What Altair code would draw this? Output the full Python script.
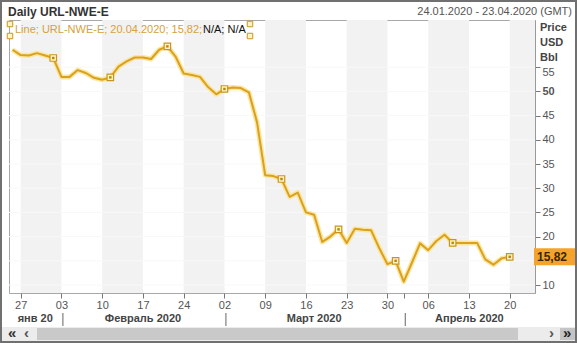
import json
import altair as alt
import pandas as pd

# ---------------- data ----------------
series_name = "URL-NWE-E"
first_day = "2020-01-24"
window_end = "2020-04-23"
prices = [58.6, 57.5, 57.4, 57.9, 57.4, 56.9, 53.0, 53.0, 54.4, 53.8,
          52.8, 52.4, 52.9, 55.1, 56.2, 57.0, 57.0, 56.7, 58.6, 59.3,
          57.2, 53.7, 53.4, 53.0, 50.9, 49.4, 50.5, 50.8, 50.7, 49.8,
          43.6, 32.7, 32.5, 31.9, 28.2, 29.1, 25.0, 24.5, 18.9, 20.0,
          21.5, 18.7, 21.6, 21.4, 21.3, 17.6, 14.3, 15.0, 10.7, 14.6,
          18.6, 17.2, 19.1, 20.4, 18.7, 18.7, 18.7, 18.7, 15.3, 14.2,
          15.5, 15.82]
marker_step = 7
marker_first = 5
month_names = ["янв 20", "Февраль 2020", "Март 2020", "Апрель 2020"]
y_ticks = [10, 15, 20, 25, 30, 35, 40, 45, 50, 55]
y_title_lines = ["Price", "USD", "Bbl"]
header_left = "Daily URL-NWE-E"
header_right = "24.01.2020 - 23.04.2020 (GMT)"
legend_main = "Line; URL-NWE-E; 20.04.2020; 15,82;"
legend_tail = "N/A; N/A"
last_value_text = "15,82"

# ---------------- derived tables ----------------
days = pd.bdate_range(first_day, window_end)
n = len(prices)
df = pd.DataFrame({"x": list(range(n)), "y": prices,
                   "date": days[:n].strftime("%d.%m.%Y")})
mondays = [i for i, d in enumerate(days) if d.weekday() == 0]
month_starts = [i for i in range(1, len(days)) if days[i].month != days[i - 1].month]
tick_vals = sorted(set(mondays + month_starts))
tick_labels = [f"{days[i].day:02d}" if i in mondays else "" for i in tick_vals]
label_expr = f"{json.dumps(tick_labels)}[indexof({json.dumps(tick_vals)}, datum.value)]"

X_LO, X_HI = -0.43, 64.1
Y_LO, Y_HI = 8.35, 64.75
bands = pd.DataFrame({"x": mondays[0::2], "x2": [m + 5 for m in mondays[0::2]]})
bounds = [X_LO] + month_starts + [X_HI]
months = pd.DataFrame({"x": [(a + b) / 2 for a, b in zip(bounds[:-1], bounds[1:])],
                       "t": month_names})
seps = pd.DataFrame({"x": month_starts})
markers = df[df["x"].isin(range(marker_first, n, marker_step))]
last = df.tail(1)
grid = pd.DataFrame({"y": y_ticks})

# ---------------- layout ----------------
W, H = 526, 273
PL, PT = 9, 20
FONT = "Liberation Sans"
xs = alt.Scale(domain=[X_LO, X_HI], nice=False, zero=False)
ys = alt.Scale(domain=[Y_LO, Y_HI], nice=False, zero=False)

xaxis = alt.Axis(values=tick_vals, labelExpr=label_expr, title=None, grid=False,
                 domain=False, tickSize=5, tickColor="#777777", labelFontSize=11,
                 labelColor="#555555", labelFont=FONT, labelPadding=1, labelFlush=False)
# the label under the last-value tag is hidden by the tag in the original
yaxis = alt.Axis(orient="right", values=y_ticks, title=None, grid=False,
                 labelExpr="datum.value == 15 ? '' : datum.label",
                 domain=True, domainColor="#9A9A9A", tickSize=5, tickColor="#777777",
                 labelFontSize=11, labelColor="#555555", labelFont=FONT, labelPadding=2,
                 labelFontWeight={"condition": {"test": "datum.value == 50", "value": "bold"},
                                  "value": "normal"},
                 labelOffset={"condition": {"test": "datum.value == 55", "value": 5},
                              "value": 0})


def X(field):
    return alt.X(field, scale=xs, axis=xaxis)


def Y(field):
    return alt.Y(field, scale=ys, axis=yaxis)


one = alt.Data(values=[{"a": 1}])


def px(v):
    return v - PL


def py(v):
    return v - PT


def txt(s, x, y, size=11, weight="normal", color="#555555", align="left"):
    return alt.Chart(one).mark_text(text=s, align=align, baseline="middle", fontSize=size,
                                    fontWeight=weight, color=color, font=FONT).encode(
        x=alt.value(px(x)), y=alt.value(py(y)))


def box(x1, x2, y1, y2, **kw):
    return alt.Chart(one).mark_rect(**kw).encode(
        x=alt.value(px(x1)), x2=alt.value(px(x2)), y=alt.value(py(y1)), y2=alt.value(py(y2)))


band_layer = alt.Chart(bands).mark_rect(color="#F2F2F2", clip=True).encode(
    x=X("x:Q"), x2="x2:Q", y=alt.value(0), y2=alt.value(H))
grid_layer = alt.Chart(grid).mark_rule(color="#F8F8F8", strokeWidth=1).encode(
    y=Y("y:Q"), x=alt.value(0), x2=alt.value(W))
halo = alt.Chart(df).mark_line(color="#FBE6A0", strokeWidth=5, strokeJoin="round").encode(
    x=X("x:Q"), y=Y("y:Q"))
line = alt.Chart(df).mark_line(color="#D9A11F", strokeWidth=2, strokeJoin="round").encode(
    x=X("x:Q"), y=Y("y:Q"))
mk_out = alt.Chart(markers).mark_square(size=42, fill="#FFF4C6", stroke="#C9961C",
                                        strokeWidth=1.2, opacity=1).encode(
    x=X("x:Q"), y=Y("y:Q"))
mk_in = alt.Chart(markers).mark_square(size=6, color="#B8860B", opacity=1).encode(
    x=X("x:Q"), y=Y("y:Q"))
tag = alt.Chart(last).mark_rule(color="#F5A32A", strokeWidth=17).encode(
    y=Y("y:Q"), x=alt.value(W - 1), x2=alt.value(W + 42))
tag_text = alt.Chart(last).mark_text(align="left", baseline="middle", fontSize=12,
                                     fontWeight="bold", color="#3A2500", font=FONT).encode(
    y=Y("y:Q"), x=alt.value(W + 2), text=alt.value(last_value_text))

month_layer = alt.Chart(months).mark_text(baseline="middle", fontSize=11, fontWeight="bold",
                                          color="#444444", font=FONT).encode(
    x=X("x:Q"), y=alt.value(py(319)), text="t:N")
sep_layer = alt.Chart(seps).mark_rule(color="#666666", xOffset=1.5).encode(
    x=X("x:Q"), y=alt.value(py(313)), y2=alt.value(py(326)))

corner_data = alt.Data(values=[{"cx": px(10), "cy": py(24)}, {"cx": px(10), "cy": py(36)},
                               {"cx": px(250), "cy": py(24)}, {"cx": px(250), "cy": py(36)}])
corner_pts = alt.Chart(corner_data).mark_square(size=30, fill="#FFF4C6", stroke="#C9961C",
                                                strokeWidth=1, opacity=1).encode(
    x=alt.X("cx:Q", scale=None), y=alt.Y("cy:Q", scale=None))

deco = [
    txt(header_left, 8, 12, size=12, weight="bold", color="#333333"),
    txt(header_right, 572, 12, size=11, color="#555555", align="right"),
    txt(legend_main, 15, 30, size=11, color="#D9A03A"),
    txt(legend_tail, 203, 30, size=11, color="#111111"),
    corner_pts,
    txt(y_title_lines[0], 540, 28, weight="bold", color="#444444"),
    txt(y_title_lines[1], 540, 43, weight="bold", color="#444444"),
    txt(y_title_lines[2], 540, 58, weight="bold", color="#444444"),
    box(0, 577, 327, 341, color="#ECECEC"),
    box(37, 518, 328, 340, color="#C9C9C9"),
    box(560, 576, 328, 340, color="#C4C4C4"),
    txt("«", 8, 333, size=15, weight="bold", color="#333333"),
    txt("‹", 24, 333, size=15, weight="bold", color="#555555"),
    txt("›", 549, 333, size=15, weight="bold", color="#555555"),
    txt("»", 563, 333, size=15, weight="bold", color="#222222"),
    box(1, 576, 1, 342, fillOpacity=0, stroke="#707070", strokeWidth=2),
]

chart = alt.layer(band_layer, grid_layer, halo, line, mk_out, mk_in, tag, tag_text,
                  month_layer, sep_layer, *deco).properties(
    width=W, height=H,
    padding={"left": PL, "top": PT, "right": 577 - PL - W, "bottom": 343 - PT - H},
    autosize=alt.AutoSizeParams(type="none"),
    background="white",
).configure_view(stroke="#A8A8A8", strokeWidth=1)

chart.save("out.html", embed_options={"renderer": "svg", "actions": False})
